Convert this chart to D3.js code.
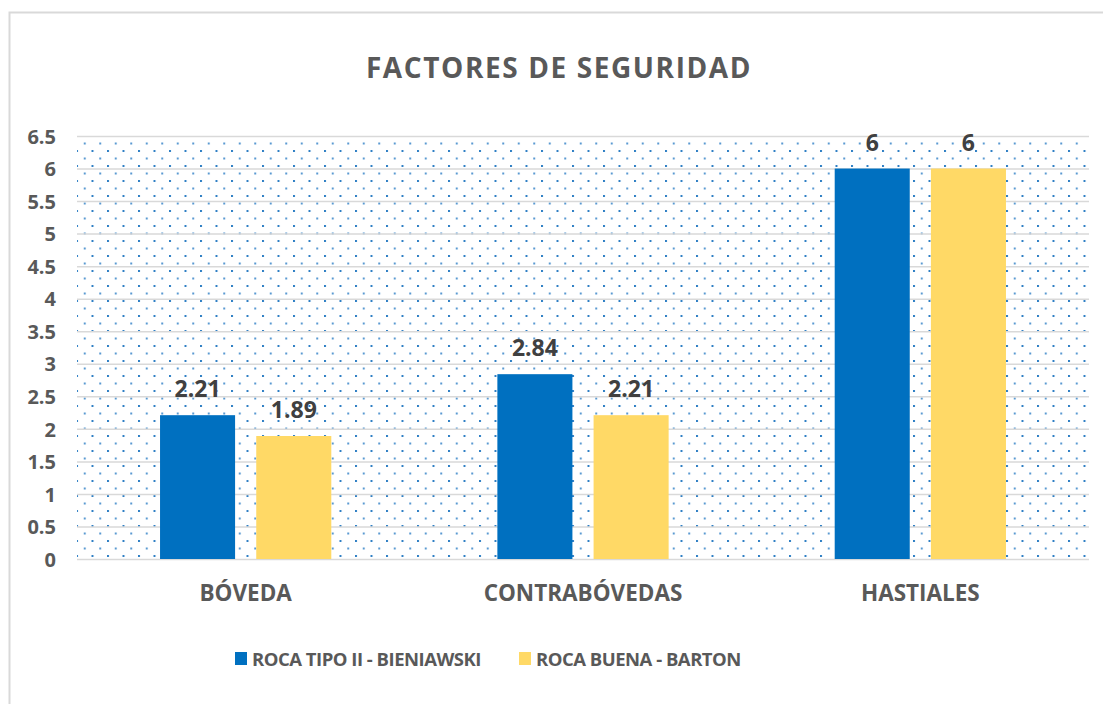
<!DOCTYPE html>
<html>
<head>
<meta charset="utf-8">
<script src="https://cdn.jsdelivr.net/npm/d3@7"></script>
<style>
  html, body { margin: 0; padding: 0; background: #ffffff; }
  svg { display: block; }
  text { font-family: "Open Sans", "DejaVu Sans", sans-serif; font-weight: bold; }
</style>
</head>
<body>
<svg id="chart" width="1103" height="704"></svg>
<script>
const title = "FACTORES DE SEGURIDAD";
const categories = ["BÓVEDA", "CONTRABÓVEDAS", "HASTIALES"];
const seriesNames = ["ROCA TIPO II - BIENIAWSKI", "ROCA BUENA - BARTON"];
const seriesColors = ["#0070C0", "#FFD966"];
const bieniawski = [2.21, 2.84, 6];
const barton = [1.89, 2.21, 6];
const yTicks = [0, 0.5, 1, 1.5, 2, 2.5, 3, 3.5, 4, 4.5, 5, 5.5, 6, 6.5];
const yMax = 6.5;

const seriesValues = [bieniawski, barton];
const rows = categories.map((c, i) => ({
  category: c,
  values: seriesNames.map((s, j) => ({ series: s, idx: j, value: seriesValues[j][i] }))
}));

const svg = d3.select("#chart");

// chart border
svg.append("rect")
  .attr("x", 9.5).attr("y", 12.5)
  .attr("width", 1200).attr("height", 800)
  .attr("fill", "#ffffff")
  .attr("stroke", "#d9d9d9").attr("stroke-width", 2);

const plot = { left: 77, right: 1089, top: 136, bottom: 559 };

const x0 = d3.scaleBand().domain(categories).range([plot.left, plot.right]).padding(0);
const x1 = d3.scaleBand().domain(d3.range(seriesNames.length))
  .range([0, x0.bandwidth()]).paddingInner(0.22).paddingOuter(0.863);
const y = d3.scaleLinear().domain([0, yMax]).range([plot.bottom, plot.top]);

// dotted pattern background
const defs = svg.append("defs");
const pat = defs.append("pattern")
  .attr("id", "dots")
  .attr("patternUnits", "userSpaceOnUse")
  .attr("x", plot.left - 1).attr("y", plot.top - 1)
  .attr("width", 15.5).attr("height", 15);
pat.append("rect").attr("x", 0).attr("y", 0).attr("width", 2).attr("height", 2).attr("fill", "#2f7fc4");
pat.append("rect").attr("x", 7.75).attr("y", 7.5).attr("width", 2).attr("height", 2).attr("fill", "#5a9ad2");

svg.append("rect")
  .attr("x", plot.left).attr("y", plot.top)
  .attr("width", plot.right - plot.left).attr("height", plot.bottom - plot.top)
  .attr("fill", "url(#dots)");

// gridlines
const yAxisGrid = d3.axisLeft(y).tickValues(yTicks).tickSize(-(plot.right - plot.left)).tickFormat("");
const grid = svg.append("g").attr("transform", `translate(${plot.left},0)`).call(yAxisGrid);
grid.select(".domain").remove();
grid.selectAll("line").attr("stroke", "#d9d9d9").attr("stroke-width", 1.5);

// y tick labels
const yAxis = d3.axisLeft(y).tickValues(yTicks).tickSize(0).tickPadding(0).tickFormat(d => String(d));
const ya = svg.append("g").attr("transform", `translate(56,0)`).call(yAxis);
ya.select(".domain").remove();
ya.selectAll("text")
  .attr("fill", "#595959")
  .style("font-size", "20px")
  .style("font-family", "'Open Sans', sans-serif")
  .style("font-weight", "bold")
  .attr("dy", "0.36em");

// bars
const groups = svg.append("g").selectAll("g")
  .data(rows).join("g")
  .attr("transform", d => `translate(${x0(d.category)},0)`);

groups.selectAll("rect")
  .data(d => d.values).join("rect")
  .attr("x", d => x1(d.idx))
  .attr("width", x1.bandwidth())
  .attr("y", d => y(d.value))
  .attr("height", d => y(0) - y(d.value))
  .attr("fill", d => seriesColors[d.idx]);

groups.selectAll("text.val")
  .data(d => d.values).join("text")
  .attr("class", "val")
  .attr("x", d => x1(d.idx) + x1.bandwidth() / 2)
  .attr("y", d => y(d.value) - 18)
  .attr("text-anchor", "middle")
  .attr("fill", "#404040")
  .style("font-size", "23px")
  .text(d => String(d.value));

// x axis labels
const xAxis = d3.axisBottom(x0).tickSize(0).tickPadding(0);
const xa = svg.append("g").attr("transform", `translate(0,${plot.bottom})`).call(xAxis);
xa.select(".domain").remove();
xa.selectAll("text")
  .attr("y", 42).attr("dy", 0)
  .attr("fill", "#595959")
  .style("font-size", "22.5px")
  .style("font-family", "'Open Sans', sans-serif")
  .style("font-weight", "bold");

// title
svg.append("text")
  .attr("x", 559).attr("y", 78)
  .attr("text-anchor", "middle")
  .attr("fill", "#595959")
  .style("font-size", "28px")
  .style("letter-spacing", "1.6px")
  .text(title);

// legend
const legendX = [235, 519];
const legend = svg.append("g").selectAll("g")
  .data(seriesNames).join("g")
  .attr("transform", (d, i) => `translate(${legendX[i]},652)`);
legend.append("rect")
  .attr("width", 12).attr("height", 13)
  .attr("fill", (d, i) => seriesColors[i]);
legend.append("text")
  .attr("x", 17).attr("y", 14)
  .attr("fill", "#595959")
  .style("font-size", "18.5px")
  .style("letter-spacing", "-0.5px")
  .text(d => d);
</script>
</body>
</html>
